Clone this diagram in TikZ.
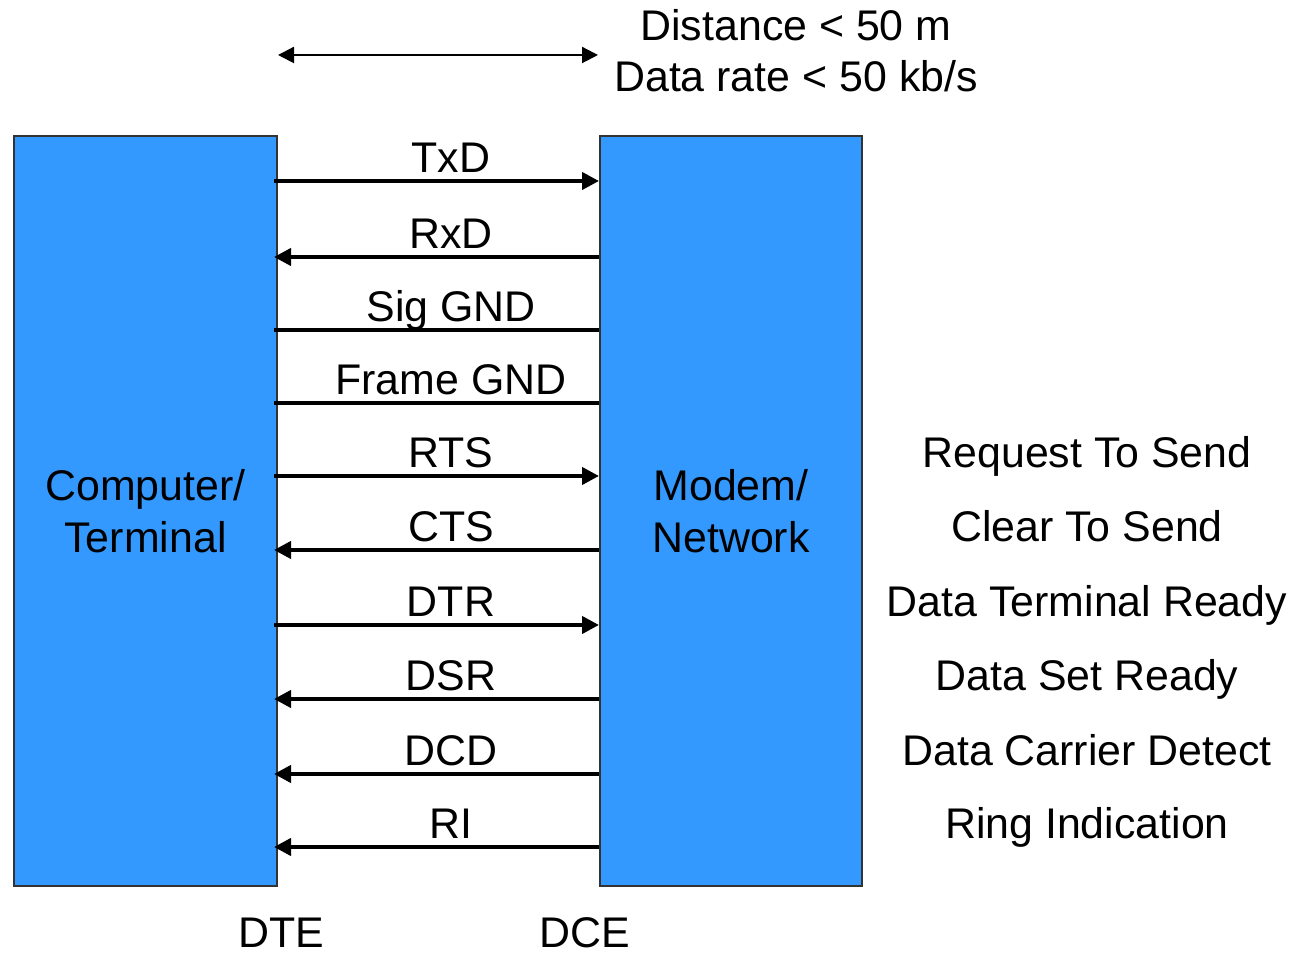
\documentclass[tikz,border=0pt]{standalone}
\usepackage{fontspec}
\setmainfont{Liberation Sans}
\usetikzlibrary{arrows.meta}
\definecolor{boxblue}{RGB}{51,153,255}
\begin{document}
\begin{tikzpicture}[box/.style={draw=black!80,fill=boxblue,thin,minimum height=7.5cm,align=center,inner sep=0pt},
  sig/.style={line width=1.15pt},
  fw/.style={-{Triangle[length=0.17cm,width=0.17cm]}},
  bw/.style={{Triangle[length=0.17cm,width=0.17cm]}-},
  nd/.style={},
  lab/.style={anchor=base,inner sep=0pt},
  font=\fontsize{12.2}{14.8}\selectfont]
\useasboundingbox (0,0) rectangle (12.96,-9.54);
\node [box,minimum width=2.63cm] (dte) at (1.455,-5.11) {Computer/\\Terminal};
\node [box,minimum width=2.62cm] (dce) at (7.31,-5.11) {Modem/\\Network};
% top
\coordinate (da) at (2.78,-0.55);
\coordinate (db) at (5.98,-0.55);
\draw [line width=0.6pt,{Triangle[length=0.16cm,width=0.16cm]}-{Triangle[length=0.16cm,width=0.16cm]}] (da) -- (db);
\node [lab] (dist) at (7.96,-0.41) {Distance < 50 m};
\node [lab] (rate) at (7.96,-0.92) {Data rate < 50 kb/s};
% signals
\foreach \i/\y/\name/\dir/\info in {1/1.81/TxD/fw/,2/2.57/RxD/bw/,3/3.30/Sig GND/nd/,4/4.03/Frame GND/nd/,
    5/4.76/RTS/fw/Request To Send,6/5.50/CTS/bw/Clear To Send,7/6.25/DTR/fw/Data Terminal Ready,
    8/6.99/DSR/bw/Data Set Ready,9/7.74/DCD/bw/Data Carrier Detect,10/8.47/RI/bw/Ring Indication}{
  \coordinate (l\i) at (2.74,-\y);
  \coordinate (r\i) at (5.99,-\y);
  \draw [sig,\dir] (l\i) -- (r\i);
  \node [lab] (n\i) at (4.51,-\y+0.08) {\name};
  \node [lab] (t\i) at (10.87,-\y+0.08) {\info};
}
\node [lab] (dtel) at (2.81,-9.48) {DTE};
\node [lab] (dcel) at (5.85,-9.48) {DCE};
\end{tikzpicture}
\end{document}
